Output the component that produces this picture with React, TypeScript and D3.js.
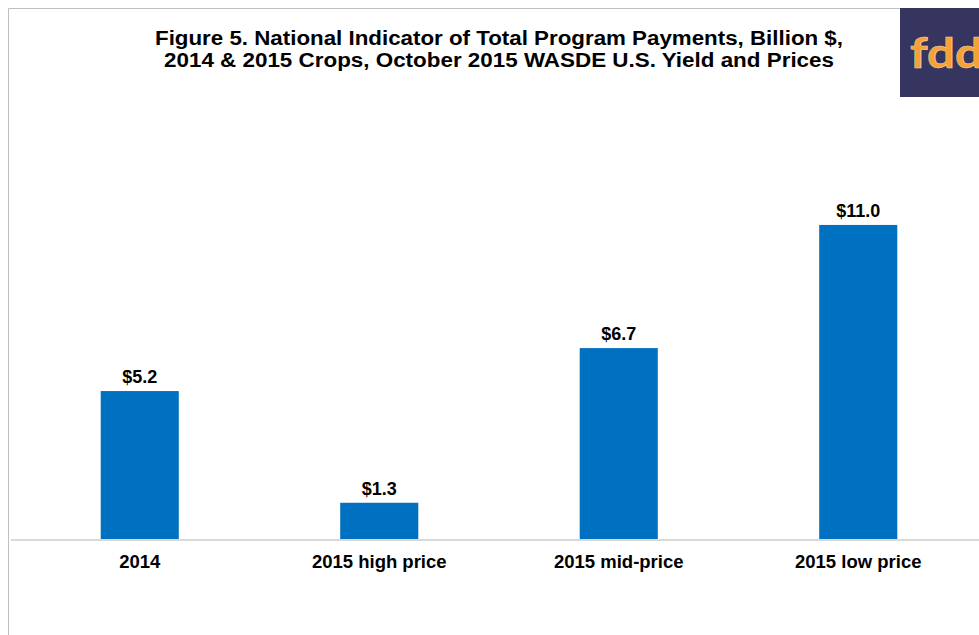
import React from "react";
import * as d3 from "d3";

const categories = ["2014", "2015 high price", "2015 mid-price", "2015 low price"];
const values = [5.2, 1.3, 6.7, 11.0];
const valueLabels = ["$5.2", "$1.3", "$6.7", "$11.0"];
const titleLines = [
  "Figure 5. National Indicator of Total Program Payments, Billion $,",
  "2014 & 2015 Crops, October 2015 WASDE U.S. Yield and Prices",
];
const titleWidths = [688, 670];

const W = 979;
const H = 635;

export default function App() {
  const x = d3.scaleBand<string>().domain(categories).range([20, 978]).paddingInner(0.674).paddingOuter(0.337);
  const y = d3.scaleLinear().domain([0, 12]).range([540, 196.3]);
  const font = "Arial, 'Liberation Sans', Helvetica, sans-serif";
  return (
    <svg width={W} height={H} style={{ position: "absolute", left: 0, top: 0, background: "#fff" }}>
      <rect x={0} y={0} width={W} height={H} fill="#fff" />
      {/* frame */}
      <line x1={8.5} y1={8.5} x2={900} y2={8.5} stroke="#bfbfbf" strokeWidth={1} />
      <line x1={8.5} y1={8.5} x2={8.5} y2={H} stroke="#bfbfbf" strokeWidth={1} />
      {/* logo */}
      <rect x={900} y={8} width={79} height={89} fill="#35355f" />
      <text x={910} y={68} fill="#f7a033" fontFamily="Lato, 'DejaVu Sans', sans-serif" fontWeight={700} fontSize={42}
        textLength={73} lengthAdjust="spacingAndGlyphs" stroke="#f3d5a8" strokeWidth={0.6}>
        fdd
      </text>
      {/* title */}
      {titleLines.map((t, i) => (
        <text key={i} x={499} y={44.5 + i * 22} textAnchor="middle" fontFamily={font} fontWeight={700} fontSize={20}
          textLength={titleWidths[i]} lengthAdjust="spacingAndGlyphs" fill="#000">
          {t}
        </text>
      ))}
      {/* bars */}
      {categories.map((c, i) => (
        <rect key={c} x={x(c)} y={y(values[i])} width={x.bandwidth()} height={y(0) - y(values[i])} fill="#0070c0" />
      ))}
      {/* baseline */}
      <line x1={11} y1={540} x2={979} y2={540} stroke="#d9d9d9" strokeWidth={2} />
      {/* value labels */}
      {categories.map((c, i) => (
        <text key={c} x={(x(c) as number) + x.bandwidth() / 2} y={y(values[i]) - 8} textAnchor="middle" fontFamily={font} fontWeight={700} fontSize={18} fill="#000">
          {valueLabels[i]}
        </text>
      ))}
      {/* category labels */}
      {categories.map((c) => (
        <text key={c} x={(x(c) as number) + x.bandwidth() / 2} y={568} textAnchor="middle" fontFamily={font} fontWeight={700} fontSize={18.5} fill="#000">
          {c}
        </text>
      ))}
    </svg>
  );
}
